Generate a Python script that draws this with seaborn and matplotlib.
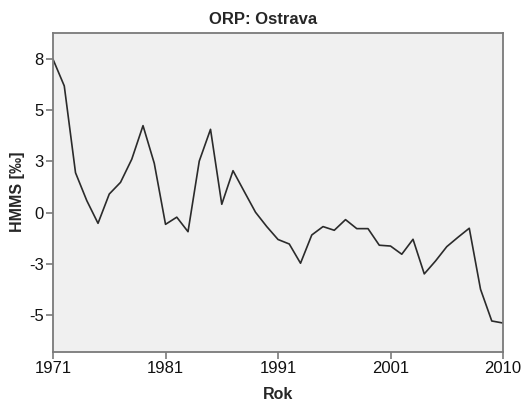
import matplotlib
matplotlib.use("Agg")
import matplotlib.pyplot as plt
import seaborn as sns
import pandas as pd

# Data (41 consecutive observations, category axis)
obs_index = list(range(41))
hmms = [7.49, 6.19, 1.95, 0.59, -0.52, 0.91, 1.48, 2.61, 4.25, 2.41,
        -0.57, -0.22, -0.93, 2.52, 4.07, 0.41, 2.05, 1.03, 0.02, -0.68,
        -1.31, -1.53, -2.47, -1.09, -0.68, -0.86, -0.34, -0.78, -0.78, -1.59,
        -1.63, -2.03, -1.30, -2.99, -2.36, -1.66, -1.20, -0.76, -3.74, -5.29,
        -5.39]
x_tick_pos = [0, 10, 20, 30, 40]
x_tick_labels = ["1971", "1981", "1991", "2001", "2010"]
y_tick_pos = [7.5, 5.0, 2.5, 0.0, -2.5, -5.0]
y_tick_labels = ["8", "5", "3", "0", "-3", "-5"]

df = pd.DataFrame({"idx": obs_index, "HMMS": hmms})

sns.set_style("white")
plt.rcParams["font.family"] = ["Liberation Sans", "DejaVu Sans"]

fig = plt.figure(figsize=(5.27, 4.03), dpi=100)
ax = fig.add_axes([0.1006, 0.1273, 0.8539, 0.7916])
ax.set_facecolor("#f0f0f0")

sns.lineplot(data=df, x="idx", y="HMMS", ax=ax, color="#2b2b2b", linewidth=1.2)

ax.set_xlim(0, 40)
ax.set_ylim(-6.79, 8.79)
ax.set_xticks(x_tick_pos)
ax.set_xticklabels(x_tick_labels)
ax.set_yticks(y_tick_pos)
ax.set_yticklabels(y_tick_labels)

for s in ax.spines.values():
    s.set_color("#7a7a7a")
    s.set_linewidth(1.3)
ax.tick_params(axis="both", which="major", bottom=True, left=True,
               direction="out", length=5, width=1.2, color="#7a7a7a",
               labelsize=12, labelcolor="#111111", pad=1.5)

ax.set_xlabel("Rok", fontsize=11.5, fontweight="bold", labelpad=8)
ax.set_ylabel("HMMS [‰]", fontsize=11.5, fontweight="bold", labelpad=3)
fig.text(0.5, 0.952, "ORP: Ostrava", ha="center", va="center",
         fontsize=12, fontweight="bold")

fig.savefig("out.png", dpi=100, facecolor="white")
